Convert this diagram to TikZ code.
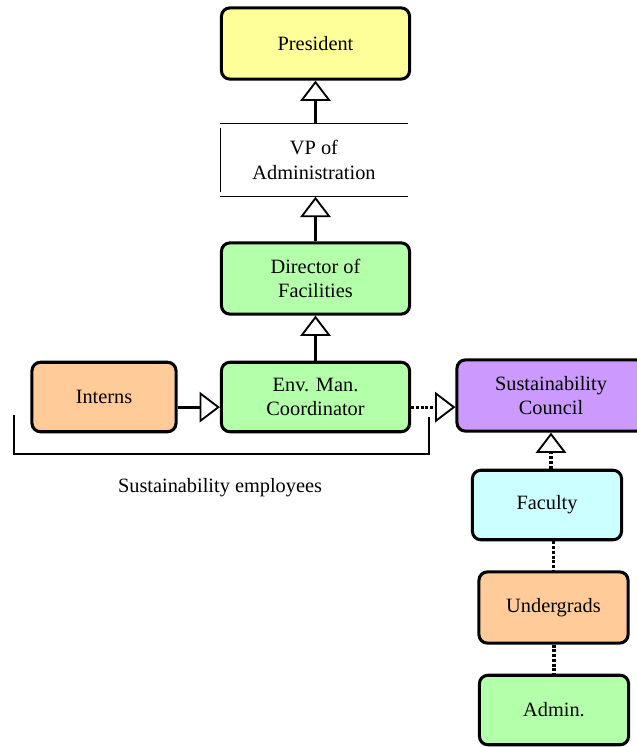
\documentclass[tikz,border=0pt]{standalone}
\usepackage{fontspec}
\setmainfont{Liberation Serif}
\usetikzlibrary{arrows.meta}
\definecolor{presyellow}{HTML}{FFFF99}
\definecolor{facgreen}{HTML}{B3FFAA}
\definecolor{stuorange}{HTML}{FFCC99}
\definecolor{councilpurple}{HTML}{CC99FF}
\definecolor{faccyan}{HTML}{CCFFFF}
\tikzset{box/.style={draw, line width=1.8pt, rounded corners=5pt, align=center,
    font=\fontsize{12}{14.5}\selectfont, inner sep=0pt},
  link/.style={line width=1.7pt, -{Triangle[open, length=12pt, width=18pt, line width=1.1pt]}},
  duty/.style={line width=1.8pt, densely dotted},
  dutyarrow/.style={duty, -{Triangle[open, length=12pt, width=18pt, line width=1.1pt]}}}

\begin{document}
\begin{tikzpicture}[x=0.59pt, y=-0.59pt]
      \useasboundingbox (0, 0) rectangle (637, 747);

      \node [box, fill=presyellow, minimum width=111pt, minimum height=42pt] (president) at (315.5, 43.5) {President};
      \node [align=center, font=\fontsize{12}{14.5}\selectfont, minimum width=110pt, minimum height=43pt] (vp) at (314, 160) {VP of\\Administration};
      \node [box, fill=facgreen, minimum width=111pt, minimum height=42pt] (director) at (315.5, 278.5) {Director of\\Facilities};
      \node [box, fill=facgreen, minimum width=111pt, minimum height=41pt] (env) at (315.5, 397) {Env. Man.\\Coordinator};
      \node [box, fill=stuorange, minimum width=85pt, minimum height=41pt] (interns) at (104, 397) {Interns};
      \node [box, fill=councilpurple, minimum width=111pt, minimum height=42pt] (council) at (551, 395.5) {Sustainability\\Council};
      \node [box, fill=faccyan, minimum width=88pt, minimum height=41pt] (faculty) at (547, 505) {Faculty};
      \node [box, fill=stuorange, minimum width=88pt, minimum height=42pt] (undergrads) at (553.5, 607.5) {Undergrads};
      \node [box, fill=facgreen, minimum width=88pt, minimum height=41pt] (admin) at (554, 710) {Admin.};

      \draw [line width=0.8pt] (vp.north west) -- (vp.north east);
      \draw [line width=0.8pt] (vp.south west) -- (vp.south east);
      \draw [line width=0.8pt] ([yshift=-3pt]vp.north west) -- ([yshift=3pt]vp.south west);

      \draw [link] (president.south |- vp.north) -- (president.south);
      \draw [link] (director.north) -- (director.north |- vp.south);
      \draw [link] (env) -- (director);
      \draw [link] ([yshift=-6pt]interns.east) -- ([yshift=-6pt]interns.east -| env.west);
      \draw [dutyarrow] ([yshift=-6pt]env.east) -- ([yshift=-6pt]env.east -| council.west);
      \draw [dutyarrow] (council.south |- faculty.north) -- (council.south);
      \draw [duty] (undergrads.north |- faculty.south) -- (undergrads.north);
      \draw [duty] (admin.north |- undergrads.south) -- (admin.north);

      \coordinate (staffleft) at (14, 415);
      \coordinate (staffright) at (429, 417);
      \draw [line width=1.5pt] (staffleft) -- (14, 454) -- (429, 454) -- (staffright);
      \node [font=\fontsize{12}{14.5}\selectfont] (staff) at (220, 488) {Sustainability employees};

    \end{tikzpicture}
\end{document}
